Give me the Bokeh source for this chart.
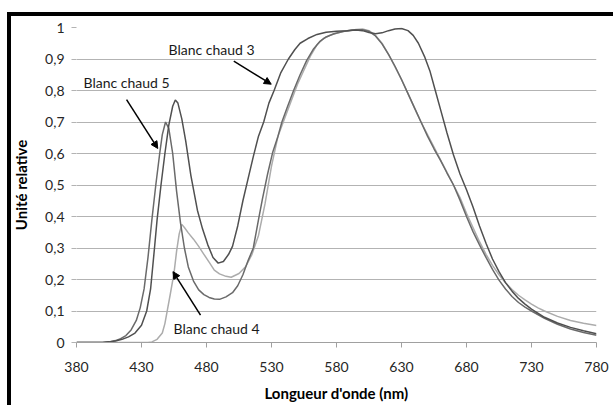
from bokeh.plotting import figure
from bokeh.models import FixedTicker, Arrow, NormalHead, Label, Range1d, InlineStyleSheet
from bokeh.embed import file_html
from bokeh.resources import INLINE

# ---------------- data ----------------
bc3_nm = [380, 400, 405, 410, 415, 420, 425, 430, 434, 437, 440, 442, 445, 448, 451, 454, 456, 458, 461, 464, 468, 473, 477, 481, 485, 489, 493, 497, 500, 504, 508, 512, 516, 520, 524, 528, 532, 537, 543, 548, 552, 558, 565, 572, 580, 588, 595, 600, 605, 610, 615, 620, 625, 630, 635, 639, 643, 648, 652, 656, 660, 665, 670, 675, 680, 685, 690, 695, 700, 705, 710, 715, 720, 725, 730, 740, 750, 760, 770, 780]
bc3_val = [0, 0, 0.002, 0.005, 0.01, 0.018, 0.03, 0.055, 0.10, 0.17, 0.30, 0.39, 0.50, 0.60, 0.69, 0.75, 0.77, 0.76, 0.71, 0.64, 0.53, 0.42, 0.36, 0.31, 0.27, 0.252, 0.257, 0.28, 0.305, 0.37, 0.45, 0.52, 0.59, 0.655, 0.70, 0.76, 0.80, 0.855, 0.90, 0.93, 0.95, 0.965, 0.978, 0.985, 0.988, 0.99, 0.992, 0.99, 0.984, 0.98, 0.983, 0.99, 0.995, 0.997, 0.99, 0.975, 0.95, 0.905, 0.86, 0.80, 0.74, 0.665, 0.595, 0.535, 0.485, 0.43, 0.37, 0.315, 0.265, 0.225, 0.19, 0.163, 0.14, 0.122, 0.106, 0.08, 0.062, 0.048, 0.037, 0.028]

bc5_nm = [380, 400, 405, 410, 414, 418, 422, 426, 429, 432, 435, 438, 441, 444, 446, 448.5, 451, 454, 457, 460, 463, 466, 470, 474, 478, 482, 486, 490, 495, 500, 504, 508, 512, 516, 520, 523, 527, 531, 535, 538, 542, 547, 552, 557, 562, 567, 572, 578, 585, 592, 600, 605, 610, 615, 620, 625, 630, 635, 640, 645, 650, 655, 660, 665, 670, 675, 680, 685, 690, 695, 700, 705, 710, 715, 720, 725, 730, 740, 750, 760, 770, 780]
bc5_val = [0, 0, 0.002, 0.006, 0.012, 0.022, 0.04, 0.07, 0.11, 0.17, 0.27, 0.39, 0.50, 0.60, 0.66, 0.70, 0.68, 0.60, 0.48, 0.38, 0.30, 0.24, 0.195, 0.167, 0.152, 0.143, 0.138, 0.137, 0.145, 0.158, 0.18, 0.215, 0.26, 0.30, 0.39, 0.455, 0.535, 0.605, 0.655, 0.70, 0.745, 0.80, 0.85, 0.895, 0.93, 0.955, 0.97, 0.98, 0.987, 0.992, 0.993, 0.988, 0.973, 0.948, 0.915, 0.877, 0.835, 0.79, 0.745, 0.70, 0.655, 0.615, 0.578, 0.538, 0.50, 0.452, 0.40, 0.352, 0.31, 0.27, 0.232, 0.198, 0.17, 0.146, 0.127, 0.112, 0.10, 0.077, 0.058, 0.043, 0.032, 0.023]

bc4_nm = [380, 435, 438, 442, 446, 448, 450, 452, 455, 457, 459, 461, 463, 466, 470, 474, 478, 482, 486, 490, 495, 499, 505, 510, 515, 520, 525, 530, 535, 540, 545, 550, 555, 560, 565, 570, 575, 580, 585, 590, 595, 600, 605, 610, 615, 620, 625, 630, 635, 640, 645, 650, 655, 660, 665, 670, 675, 680, 685, 690, 695, 700, 705, 710, 715, 720, 725, 730, 735, 740, 750, 760, 770, 780]
bc4_val = [0, 0, 0.002, 0.01, 0.03, 0.06, 0.105, 0.15, 0.22, 0.29, 0.345, 0.375, 0.365, 0.348, 0.328, 0.305, 0.28, 0.255, 0.23, 0.218, 0.21, 0.207, 0.219, 0.24, 0.28, 0.34, 0.44, 0.56, 0.655, 0.71, 0.765, 0.82, 0.865, 0.91, 0.945, 0.965, 0.975, 0.982, 0.987, 0.99, 0.994, 0.995, 0.99, 0.975, 0.95, 0.915, 0.875, 0.835, 0.79, 0.745, 0.70, 0.66, 0.62, 0.58, 0.54, 0.50, 0.46, 0.41, 0.365, 0.32, 0.28, 0.245, 0.215, 0.19, 0.168, 0.15, 0.135, 0.122, 0.11, 0.10, 0.083, 0.07, 0.061, 0.054]

x_ticks = [380, 430, 480, 530, 580, 630, 680, 730, 780]
y_ticks = [0, 0.1, 0.2, 0.3, 0.4, 0.5, 0.6, 0.7, 0.8, 0.9, 1.0]
y_tick_labels = ["0", "0,1", "0,2", "0,3", "0,4", "0,5", "0,6", "0,7", "0,8", "0,9", "1"]

labels = ["Blanc chaud 5", "Blanc chaud 3", "Blanc chaud 4"]
label_x = [385.4, 450.8, 454.6]
label_y = [0.826, 0.93, 0.045]
arrow_x_start = [418.5, 501.0, 475.4]
arrow_y_start = [0.771, 0.893, 0.087]
arrow_x_end = [442.5, 529.8, 454.2]
arrow_y_end = [0.616, 0.82, 0.225]

FONT = "Lato"
GRID = "#b3b3b3"

p = figure(width=613, height=405, output_backend="svg", toolbar_location=None,
           x_range=Range1d(380, 780), y_range=Range1d(0, 1),
           min_border_left=76, min_border_right=17, min_border_top=27, min_border_bottom=63)
p.outline_line_color = None
p.background_fill_color = "white"
p.border_fill_color = None
# outer chart frame: black strip on the left and top edges (drawn as inset shadows)
p.stylesheets = [InlineStyleSheet(css=":host { background-color: white; "
                                      "box-shadow: inset 7px 12px 0 0 white, inset 11px 16px 0 0 black; }")]

p.xgrid.visible = False
p.ygrid.grid_line_color = GRID
p.ygrid.grid_line_width = 1
p.ygrid.ticker = FixedTicker(ticks=y_ticks)

p.xaxis.ticker = FixedTicker(ticks=x_ticks)
p.yaxis.ticker = FixedTicker(ticks=y_ticks)
p.yaxis.major_label_overrides = {t: l for t, l in zip(y_ticks, y_tick_labels)}
p.xaxis.minor_tick_line_color = None
p.yaxis.minor_tick_line_color = None
p.xaxis.axis_line_color = "#a0a0a0"
p.xaxis.major_tick_line_color = "#a0a0a0"
p.xaxis.major_tick_out = 5
p.xaxis.major_tick_in = 0
p.yaxis.axis_line_color = None
p.yaxis.major_tick_line_color = GRID
p.yaxis.major_tick_out = 5
p.yaxis.major_tick_in = 0
for ax in (p.xaxis, p.yaxis):
    ax.major_label_text_font = FONT
    ax.major_label_text_font_size = "14px"
    ax.major_label_text_color = "#262626"
    ax.axis_label_text_font = FONT
    ax.axis_label_text_font_size = "15px"
    ax.axis_label_text_font_style = "bold"
    ax.axis_label_text_color = "#000000"
p.xaxis.major_label_standoff = 14
p.yaxis.major_label_standoff = 7
p.xaxis.axis_label = "Longueur d'onde (nm)"
p.yaxis.axis_label = "Unité relative"
p.xaxis.axis_label_standoff = 9
p.yaxis.axis_label_standoff = 12

p.line(bc4_nm, bc4_val, line_color="#acacac", line_width=1.5)
p.line(bc5_nm, bc5_val, line_color="#6a6a6a", line_width=1.5)
p.line(bc3_nm, bc3_val, line_color="#505050", line_width=1.5)

for i in range(3):
    p.add_layout(Arrow(end=NormalHead(size=7, fill_color="black", line_color="black"),
                       x_start=arrow_x_start[i], y_start=arrow_y_start[i],
                       x_end=arrow_x_end[i], y_end=arrow_y_end[i],
                       line_color="black", line_width=1.5))
    p.add_layout(Label(x=label_x[i], y=label_y[i], text=labels[i], text_font=FONT,
                       text_font_size="14px", text_baseline="middle", text_align="left",
                       text_color="#1a1a1a"))

open("out.html", "w").write(file_html(p, INLINE))
